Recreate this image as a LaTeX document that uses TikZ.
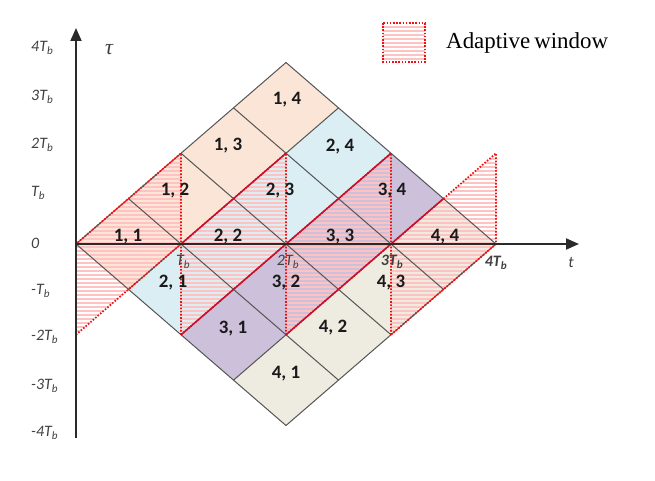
\documentclass[tikz,border=0pt]{standalone}
\usepackage{fontspec}
\setmainfont{Liberation Serif}
\newfontfamily\calib{Carlito}
\usetikzlibrary{arrows.meta}
\definecolor{rowA}{HTML}{FBE5D6}
\definecolor{rowB}{HTML}{DAEEF3}
\definecolor{rowC}{HTML}{CCC0DA}
\definecolor{rowD}{HTML}{EEECE1}
\definecolor{gridc}{HTML}{555555}
\definecolor{axisc}{HTML}{2A2A2A}
\definecolor{redsolid}{HTML}{C8102E}
\definecolor{reddot}{HTML}{F01010}
\definecolor{tickc}{HTML}{404040}
\tikzset{
  gridline/.style={draw=gridc, line width=1bp},
  winedge/.style={draw=reddot, line width=1.7bp, dash pattern=on 1.6bp off 1.6bp},
  winsolid/.style={draw=redsolid, line width=1.4bp},
  hatchline/.style={draw=red!24, line width=1.25bp},
  axisline/.style={draw=axisc, line width=1.8bp},
  cellnum/.style={font=\calib\bfseries\fontsize{19}{21}\selectfont, text=black!90, inner sep=0pt},
  ticklab/.style={font=\calib\itshape\fontsize{16}{18}\selectfont, text=tickc, inner sep=0pt, anchor=west},
  axlab/.style={font=\calib\itshape\fontsize{16}{18}\selectfont, text=tickc, inner sep=0pt},
}
\newcommand{\Tb}{T\textsubscript{b}}
\begin{document}
\begin{tikzpicture}[x=1bp,y=-1bp]
\useasboundingbox (0,0) rectangle (655,481);
% grid points
\foreach \i in {0,...,4}{\foreach \j in {0,...,5}{
  \coordinate (g\i\j) at ({76+52.5*(\i+\j)},{244+45.375*(\i-\j)});}}
\coordinate (gm) at (76,334.75);
% cells
\foreach \i/\cc in {1/rowA,2/rowB,3/rowC,4/rowD}{
  \foreach \j in {1,...,4}{
    \pgfmathtruncatemacro\ii{\i-1}
    \pgfmathtruncatemacro\jj{\j-1}
    \fill[\cc] (g\ii\jj) -- (g\ii\j) -- (g\i\j) -- (g\i\jj) -- cycle;}}
% hatching of adaptive windows (horizontal lines, computed ends)
\foreach \k in {0,...,3}{
  \pgfmathsetmacro\xa{76+105*\k}
  \pgfmathsetmacro\xb{181+105*\k}
  \foreach \y in {155,159,...,243}{
    \pgfmathsetmacro\xl{\xa+(244-\y)*105/90.75}
    \draw[hatchline] (\xl,\y) -- (\xb,\y);}
  \foreach \y in {247,251,...,331}{
    \pgfmathsetmacro\xr{\xa+(334.75-\y)*105/90.75}
    \draw[hatchline] (\xa,\y) -- (\xr,\y);}
}
% grid
\foreach \i in {0,...,4}{\draw[gridline] (g\i0) -- (g\i4);}
\foreach \j in {0,...,4}{\draw[gridline] (g0\j) -- (g4\j);}
% window outlines
\draw[winedge] (gm) -- (g00) -- (g02) -- (g11) -- cycle;
\draw[winedge] (g20) -- (g11) -- (g13) -- (g22) -- cycle;
\draw[winedge] (g31) -- (g22) -- (g24) -- (g33) -- cycle;
\draw[winedge] (g42) -- (g33) -- (g35) -- (g44) -- cycle;
\draw[winsolid] (g11) -- (g13);
\draw[winsolid] (g20) -- (g24);
\draw[winsolid] (g31) -- (g34);
% axes
\coordinate (vbot) at (76,438);
\coordinate (vtop) at (76,28);
\coordinate (hend) at (579,244);
\draw[axisline, -{Triangle[length=13bp,width=11bp]}] (vbot) -- (vtop);
\draw[axisline, -{Triangle[length=13bp,width=11bp]}] (g00) -- (hend);
% axis names
\node[font=\itshape\fontsize{22}{24}\selectfont, text=tickc, inner sep=0pt] (tau) at (109,50) {τ};
\node[axlab] (tlab) at (571,263) {t};
% tau tick labels
\node[ticklab] (y4) at (31,48) {4\Tb};
\node[ticklab] (y3) at (31,97) {3\Tb};
\node[ticklab] (y2) at (31,145) {2\Tb};
\node[ticklab] (y1) at (31,193) {\Tb};
\node[ticklab] (y0) at (31,243) {0};
\node[ticklab] (ym1) at (31,291) {-\Tb};
\node[ticklab] (ym2) at (31,337) {-2\Tb};
\node[ticklab] (ym3) at (31,386) {-3\Tb};
\node[ticklab] (ym4) at (31,433) {-4\Tb};
% t tick labels
\node[axlab] (x1) at (183,262) {\Tb};
\node[axlab] (x2) at (288,262) {2\Tb};
\node[axlab, font=\calib\bfseries\itshape\fontsize{16}{18}\selectfont] (x3) at (392,262) {3\Tb};
\node[axlab, font=\calib\bfseries\itshape\fontsize{16}{18}\selectfont] (x4) at (496,263) {4\Tb};
% cell labels
\node[cellnum] (c11) at (128,237) {1, 1};
\node[cellnum] (c12) at (175,191) {1, 2};
\node[cellnum] (c13) at (228,146) {1, 3};
\node[cellnum] (c14) at (287,100) {1, 4};
\node[cellnum] (c21) at (173,283) {2, 1};
\node[cellnum] (c22) at (228,237) {2, 2};
\node[cellnum] (c23) at (280,191) {2, 3};
\node[cellnum] (c24) at (340,147) {2, 4};
\node[cellnum] (c31) at (233,329) {3, 1};
\node[cellnum] (c32) at (286,283) {3, 2};
\node[cellnum] (c33) at (340,237) {3, 3};
\node[cellnum] (c34) at (392,191) {3, 4};
\node[cellnum] (c41) at (286,374) {4, 1};
\node[cellnum] (c42) at (333,328) {4, 2};
\node[cellnum] (c43) at (391,283) {4, 3};
\node[cellnum] (c44) at (445,237) {4, 4};
% legend
\foreach \y in {27,31,...,59}{\draw[hatchline] (383,\y) -- (425,\y);}
\draw[winedge] (383,23) rectangle (425,62);
\node[anchor=west, inner sep=0pt, font=\fontsize{23}{26}\selectfont] (leg) at (446,43) {Adaptive\hspace{0.18em}window};
\end{tikzpicture}
\end{document}
